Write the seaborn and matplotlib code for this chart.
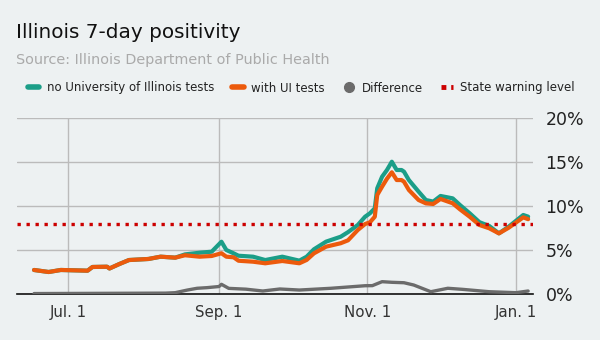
import matplotlib
matplotlib.use("Agg")
import matplotlib.pyplot as plt
from matplotlib.lines import Line2D
import seaborn as sns
import pandas as pd

# ---- data ----
dates = ["2020-06-17", "2020-06-23", "2020-06-28", "2020-07-09", "2020-07-11", "2020-07-17",
         "2020-07-18", "2020-07-22", "2020-07-26", "2020-08-03", "2020-08-08", "2020-08-14",
         "2020-08-18", "2020-08-24", "2020-08-29", "2020-09-02", "2020-09-04", "2020-09-07",
         "2020-09-09", "2020-09-15", "2020-09-20", "2020-09-27", "2020-10-04", "2020-10-07",
         "2020-10-10", "2020-10-15", "2020-10-21", "2020-10-24", "2020-10-28", "2020-10-31",
         "2020-11-02", "2020-11-04", "2020-11-05", "2020-11-07", "2020-11-09", "2020-11-11",
         "2020-11-13", "2020-11-15", "2020-11-16", "2020-11-18", "2020-11-22", "2020-11-25",
         "2020-11-28", "2020-12-01", "2020-12-06", "2020-12-09", "2020-12-13", "2020-12-17",
         "2020-12-21", "2020-12-25", "2020-12-29", "2021-01-04", "2021-01-06"]

with_ui = [2.73, 2.5, 2.73, 2.65, 3.07, 3.1, 2.9, 3.4, 3.86, 3.98, 4.24, 4.13,
           4.4, 4.24, 4.32, 4.63, 4.24, 4.17, 3.78, 3.67, 3.49, 3.75, 3.49, 3.87,
           4.62, 5.38, 5.77, 6.1, 7.27, 7.95, 8.15, 8.78, 11.25, 12.2, 13.1, 13.83,
           12.95, 12.95, 12.76, 11.82, 10.68, 10.3, 10.23, 10.8, 10.31, 9.62, 8.78, 7.84,
           7.47, 6.89, 7.53, 8.71, 8.5]

no_ui = [2.73, 2.5, 2.73, 2.65, 3.07, 3.1, 2.9, 3.4, 3.86, 3.98, 4.24, 4.13,
         4.5, 4.69, 4.81, 5.94, 5.0, 4.62, 4.35, 4.24, 3.86, 4.24, 3.79, 4.24,
         5.08, 5.95, 6.51, 7.03, 7.84, 8.78, 9.17, 9.74, 12.01, 13.33, 14.09, 15.03,
         14.09, 14.09, 13.9, 12.95, 11.63, 10.68, 10.5, 11.14, 10.87, 10.11, 9.17, 8.16,
         7.73, 6.89, 7.65, 8.98, 8.79]

diff_dates = ["2020-06-17", "2020-08-10", "2020-08-14", "2020-08-19", "2020-08-23", "2020-08-27",
              "2020-09-01", "2020-09-02", "2020-09-05", "2020-09-12", "2020-09-19", "2020-09-26",
              "2020-10-04", "2020-10-17", "2020-10-31", "2020-11-03", "2020-11-07", "2020-11-11",
              "2020-11-16", "2020-11-20", "2020-11-27", "2020-12-04", "2020-12-10", "2020-12-21",
              "2021-01-01", "2021-01-06"]
difference = [0.05, 0.1, 0.15, 0.45, 0.65, 0.72, 0.85, 1.1, 0.64, 0.55, 0.34, 0.57,
              0.45, 0.65, 0.94, 0.95, 1.4, 1.33, 1.28, 1.02, 0.26, 0.65, 0.53, 0.26,
              0.15, 0.34]

warning_level = 8
tick_dates = ["2020-07-01", "2020-09-01", "2020-11-01", "2021-01-01"]
tick_labels = ["Jul. 1", "Sep. 1", "Nov. 1", "Jan. 1"]
y_ticks = [0, 5, 10, 15, 20]
y_labels = ["0%", "5%", "10%", "15%", "20%"]

title = "Illinois 7-day positivity"
subtitle = "Source: Illinois Department of Public Health"
legend_labels = ["no University of Illinois tests", "with UI tests", "Difference", "State warning level"]

# ---- style ----
BG = "#edf1f2"
TEAL = "#1b9e88"
ORANGE = "#ec5a0c"
GREY = "#6b6b6b"
RED = "#cc0000"

sns.set_style("white")
plt.rcParams["font.family"] = ["DejaVu Sans"]

df = pd.DataFrame({"date": pd.to_datetime(dates), "no_ui": no_ui, "with_ui": with_ui})
dd = pd.DataFrame({"date": pd.to_datetime(diff_dates), "diff": difference})

fig = plt.figure(figsize=(6, 3.4), dpi=100, facecolor=BG)
ax = fig.add_axes([17 / 600, 46 / 340, 516 / 600, 176 / 340])
ax.set_facecolor(BG)

sns.lineplot(data=dd, x="date", y="diff", ax=ax, color=GREY, lw=2.4, zorder=3)
sns.lineplot(data=df, x="date", y="no_ui", ax=ax, color=TEAL, lw=3.0, zorder=4)
sns.lineplot(data=df, x="date", y="with_ui", ax=ax, color=ORANGE, lw=3.0, zorder=5)
ax.axhline(warning_level, color=RED, lw=2.4, linestyle=(0, (1, 1.7)),
           dash_capstyle="butt", zorder=6)

ax.set_xlim(pd.Timestamp("2020-06-10"), pd.Timestamp("2021-01-08"))
ax.set_ylim(0, 20)
ax.set_xticks(pd.to_datetime(tick_dates))
ax.set_xticklabels(tick_labels)
ax.set_yticks(y_ticks)
ax.set_yticklabels(y_labels)
ax.yaxis.tick_right()
ax.tick_params(axis="y", length=0, pad=9, labelsize=12.5, labelcolor="#222222")
ax.tick_params(axis="x", length=0, pad=8, labelsize=10.8, labelcolor="#333333")
ax.grid(True, color="#bbbbbb", lw=1)
ax.set_axisbelow(True)
ax.set_xlabel("")
ax.set_ylabel("")
for s in ["top", "left", "right"]:
    ax.spines[s].set_visible(False)
ax.spines["bottom"].set_color("#111111")
ax.spines["bottom"].set_linewidth(1.2)

fig.text(16 / 600, 1 - 33 / 340, title, fontsize=14.4, color="#111111", va="center", ha="left")
fig.text(16 / 600, 1 - 60 / 340, subtitle, fontsize=10.4, color="#aaaaaa", va="center", ha="left")

handles = [
    Line2D([], [], color=TEAL, lw=4),
    Line2D([], [], color=ORANGE, lw=4),
    Line2D([], [], color=GREY, lw=0, marker="o", markersize=7),
    Line2D([], [], color=RED, lw=3.5, linestyle=(0, (1, 1))),
]
fig.legend(handles, legend_labels, loc="center left", bbox_to_anchor=(17 / 600, 1 - 88 / 340),
           ncol=4, frameon=False, fontsize=8.5, handlelength=1.0, handletextpad=0.6,
           columnspacing=1.55, labelcolor="#222222")

fig.savefig("out.png", dpi=100, facecolor=BG)
